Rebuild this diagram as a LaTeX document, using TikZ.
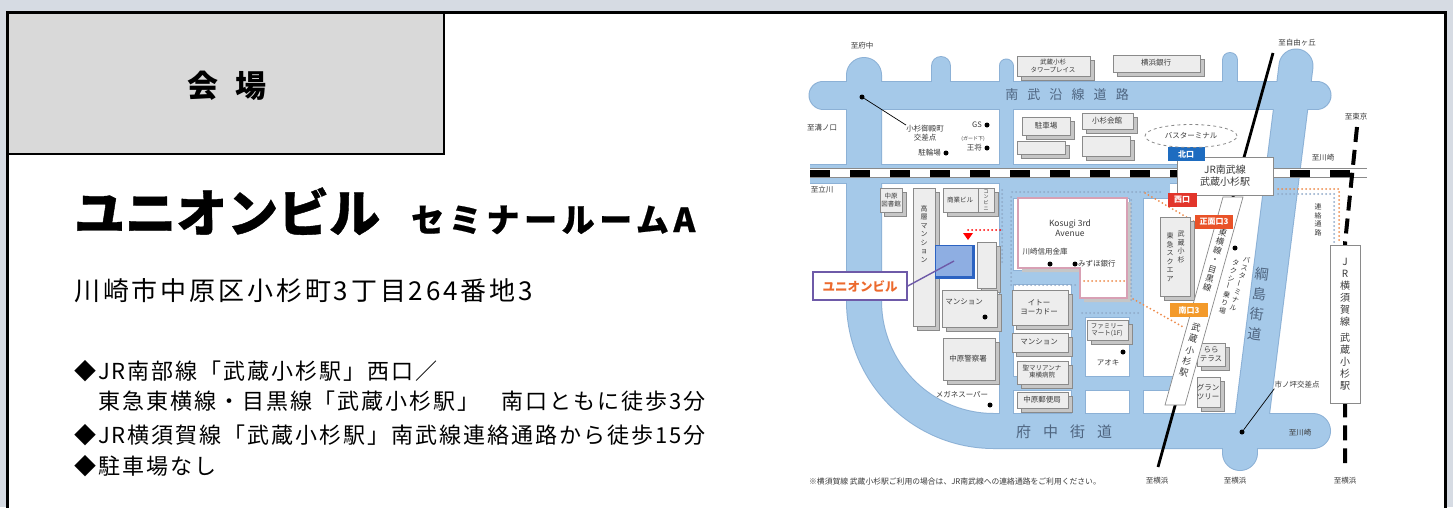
\documentclass[tikz,border=0pt]{standalone}
\usepackage{fontspec}
\usepackage{graphicx}
\setmainfont{Noto Sans CJK JP}
\usetikzlibrary{shapes.geometric}
\definecolor{bgout}{HTML}{D6DBE3}
\definecolor{hdrc}{HTML}{D9D9D9}
\definecolor{roadc}{HTML}{A5C9E9}
\definecolor{roadedge}{HTML}{8CB1D6}
\definecolor{bfacec}{HTML}{EDEDED}
\definecolor{bsidec}{HTML}{C6C6C6}
\definecolor{blinec}{HTML}{8A8A8A}
\definecolor{mtext}{HTML}{3A3A3A}
\definecolor{rtext}{HTML}{4F6580}
\definecolor{kitac}{HTML}{1E6CC0}
\definecolor{nishic}{HTML}{E2352B}
\definecolor{shomenc}{HTML}{E95228}
\definecolor{minamic}{HTML}{F39A2B}
\definecolor{walkc}{HTML}{8EA9C8}
\definecolor{routec}{HTML}{EE8A4A}
\definecolor{unionc}{HTML}{8EAEE2}
\definecolor{unionedge}{HTML}{2C63C2}
\definecolor{calloutc}{HTML}{6E5AA8}
\definecolor{callouttext}{HTML}{EC6A2E}
\definecolor{pinkedge}{HTML}{D8A0B4}
\tikzset{
  mt/.style={font=\fontsize{7.5}{8.5}\selectfont, text=mtext, inner sep=0, align=center},
  smt/.style={font=\fontsize{6.5}{7.2}\selectfont, text=mtext, inner sep=0, align=center},
  rt/.style={font=\fontsize{13}{13}\selectfont, text=rtext, inner sep=0},
  mapdot/.style={circle, fill=black, inner sep=0, minimum size=5},
  walkdots/.style={draw=walkc, line width=2, line cap=round, dash pattern=on 0pt off 4pt},
  routedots/.style={draw=routec, line width=2, line cap=round, dash pattern=on 0pt off 4pt},
  exitlab/.style={text=white, font=\fontsize{8}{8}\selectfont\bfseries, inner sep=1.5, minimum height=14},
  bul/.style={anchor=base west, inner sep=0, font=\fontsize{22}{22}\selectfont\addfontfeature{LetterSpace=9}},
}
\newcommand\bld[4]{%
  \filldraw[fill=bsidec, draw=blinec, line width=0.5] (#1+4,#2+4) rectangle (#3+4,#4+4);
  \filldraw[fill=bfacec, draw=blinec, line width=0.6] (#1,#2) rectangle (#3,#4);}
\newcommand\roads[2]{%
 \begin{scope}[draw=#1, line cap=round]
  \draw[line width=27+#2] (823,95) -- (1317,95);
  \draw[line width=34+#2, rounded corners=130] (864,75) -- (864,431) -- (1313,431);
  \draw[line width=18+#2] (941,66) -- (941,95);
  \draw[line width=13+#2] (1006,66) -- (1006,420);
  \draw[line width=14+#2] (1230,60) -- (1230,95);
  \draw[line width=33+#2] (1296,66) -- (1251,425);
  \draw[line width=34+#2] (1240,431) -- (1240,453);
  \draw[line width=18+#2, line cap=butt] (810,174) -- (1290,174);
  \draw[line width=20+#2, line cap=butt] (1006,188) -- (1170,188);
  \draw[line width=13+#2, line cap=butt] (1000,277) -- (1078,277);
  \draw[line width=13+#2, line cap=butt] (1078,270) -- (1078,420);
  \draw[line width=16+#2, line cap=butt] (1078,309) -- (1136,309);
  \draw[line width=13+#2, line cap=butt] (1136,188) -- (1136,420);
  \draw[line width=13+#2, line cap=butt] (1006,383) -- (1185,383);
 \end{scope}}
\begin{document}
\begin{tikzpicture}[x=1pt,y=-1pt]
\useasboundingbox (0,0) rectangle (1453,507);
\clip (0,0) rectangle (1453,507);
\fill[bgout] (0,0) rectangle (1453,507);
\filldraw[fill=white, draw=black, line width=2.6] (7.5,12.5) rectangle (1445.5,540);
\filldraw[fill=hdrc, draw=black, line width=2.6] (7.5,12.5) rectangle (444,154);

% ---------- left text ----------
\node[font=\fontsize{31}{31}\selectfont\bfseries] (hdr) at (227,86) {会\hspace{17pt}場};
\node[anchor=base west, inner sep=0] (title) at (74,232) {{\fontsize{51}{51}\selectfont\bfseries\addfontfeature{FakeBold=0.8}ユニオンビル}\hspace{31pt}{\fontsize{33}{33}\selectfont\bfseries\addfontfeature{LetterSpace=14,FakeBold=0.6}セミナールームA}};
\node[anchor=base west, inner sep=0, font=\fontsize{26}{26}\selectfont\addfontfeature{LetterSpace=11}] (addr) at (74,300) {川崎市中原区小杉町3丁目264番地3};
\node[bul] (b1) at (74,379) {◆JR南部線「武蔵小杉駅」西口／};
\node[bul] (b2) at (98,409) {東急東横線・目黒線「武蔵小杉駅」\hspace{22pt}南口ともに徒歩3分};
\node[bul] (b3) at (74,443) {◆JR横須賀線「武蔵小杉駅」南武線連絡通路から徒歩15分};
\node[bul] (b4) at (74,474) {◆駐車場なし};

% ---------- map: roads ----------
\roads{roadedge}{2}
\roads{roadc}{0}

% Kosugi 3rd Avenue block
\fill[bsidec] (1022,202) -- (1131,202) -- (1131,302) -- (1084,302) -- (1084,272) -- (1022,272) -- cycle;
\filldraw[fill=white, draw=pinkedge, line width=1.3] (1018,198) -- (1127,198) -- (1127,298) -- (1080,298) -- (1080,268) -- (1018,268) -- cycle;

% walkways
\draw[walkdots] (1012,192) -- (1160,192);
\draw[walkdots] (1011,197) -- (1011,285) -- (1076,285);
\draw[walkdots] (1131,200) -- (1131,300);
\draw[walkdots] (1082,313) -- (1138,313);
\draw[walkdots] (1002,190) -- (1002,265);
\draw[walkdots] (1278,194) -- (1334,194) -- (1334,243);
\draw[routedots] (1278,189) -- (1339,189) -- (1339,243);
\draw[routedots] (1145,193) -- (1195,222);
\draw[routedots] (1133,299) -- (1185,328);
\draw[routedots] (1084,281) -- (1126,281);
\draw[draw=red, line width=2, line cap=round, dash pattern=on 0pt off 4pt] (968,230) -- (1000,230);

% buildings
\bld{1017}{56}{1090}{76}
\bld{1113}{55}{1200}{72}
\bld{1022}{117}{1070}{135}
\bld{1017}{141}{1065}{154}
\bld{1082}{113}{1133}{129}
\bld{1082}{136}{1130}{156}
\bld{880}{188}{902}{212}
\bld{913}{188}{935}{326}
\bld{943}{188}{994}{212}
\draw[blinec, line width=0.5] (978,188) -- (978,212);
\bld{977}{242}{996}{288}
\bld{942}{290}{997}{327}
\bld{943}{338}{995}{380}
\bld{1012}{290}{1068}{325}
\bld{1012}{333}{1068}{352}
\bld{1017}{361}{1068}{384}
\bld{1017}{392}{1068}{408}
\bld{1087}{320}{1128}{340}
\bld{1160}{217}{1190}{296}
\bld{1197}{343}{1225}{366}
\bld{1197}{377}{1220}{407}

% union building
\node[draw=unionedge, fill=unionc, line width=1, minimum width=38, minimum height=32, inner sep=0] (ub) at (954,261) {};
\draw[unionedge, line width=3] (ub.south west) -- (ub.south east) -- (ub.north east);
\fill[red] (963,233) -- (973,233) -- (968,240) -- cycle;

% railways
\coordinate (rl) at (810,173);
\coordinate (rr) at (1367,173);
\draw[line width=9, white] (rl) -- (rr);
\draw[line width=7, black, dash pattern=on 20 off 20] (rl) -- (rr);
\draw[blinec, line width=0.6] (810,168.5) -- (1367,168.5);
\draw[blinec, line width=0.6] (810,177.5) -- (1367,177.5);

\coordinate (ytop) at (1357,127);
\coordinate (ymid) at (1345,243);
\coordinate (ybot) at (1345,463);
\draw[line width=4, dash pattern=on 15 off 8] (ytop) -- (ymid) -- (ybot);
\node[draw=blinec, fill=white, minimum width=30, minimum height=158, inner sep=0, align=center, font=\fontsize{10}{12}\selectfont, text=mtext] (jry) at (1345,324) {J\\R\\横\\須\\賀\\線\\[4pt]武\\蔵\\小\\杉\\駅};

\coordinate (ttop) at (1273,53);
\coordinate (tbot) at (1158,467);
\draw[line width=2.8] (ttop) -- (tbot);
\filldraw[fill=white, draw=blinec, line width=0.7] (1223,197) -- (1243,197) -- (1185,405) -- (1165,405) -- cycle;
\node[mt, rotate=-15.5, font=\fontsize{8.5}{9.6}\selectfont] (tyl) at (1215,260) {東\\横\\線\\・\\目\\黒\\線};
\node[mt, rotate=-15.5, font=\fontsize{9}{11.5}\selectfont] (tys) at (1190,350) {武\\蔵\\小\\杉\\駅};

\node[draw=blinec, fill=white, minimum width=96, minimum height=38, align=center, font=\fontsize{10}{12}\selectfont, text=mtext, inner sep=0] (jrn) at (1225,176) {JR南武線\\武蔵小杉駅};

% exits
\node[exitlab, fill=kitac, minimum width=37] (kita) at (1186,154) {北口};
\node[exitlab, fill=nishic, minimum width=29] (nishi) at (1182,200) {西口};
\node[exitlab, fill=shomenc, minimum width=38] (shomen) at (1214,222) {正面口3};
\node[exitlab, fill=minamic, minimum width=38] (minami) at (1189,310) {南口3};

% bus terminal
\node[ellipse, draw=blinec, dashed, line width=0.8, minimum width=92, minimum height=23, inner sep=0, mt] (bus) at (1191,136) {バスターミナル};

% road names
\node[rt, font=\fontsize{13}{13}\selectfont\addfontfeature{LetterSpace=70}] (nambu) at (1067,95) {南武沿線道路};
\node[rt, font=\fontsize{15}{15}\selectfont\addfontfeature{LetterSpace=80}] (fuchu) at (1064,432) {府中街道};
\node[rt, align=center, rotate=-7, font=\fontsize{14}{20}\selectfont] (tsuna) at (1258,304) {綱\\島\\街\\道};

% direction labels
\node[mt] (d1) at (862,46) {至府中};
\node[mt] (d2) at (822,128) {至溝ノ口};
\node[mt] (d3) at (822,190) {至立川};
\node[mt] (d4) at (1297,43) {至自由ヶ丘};
\node[mt] (d5) at (1356,117) {至東京};
\node[mt] (d6) at (1323,158) {至川崎};
\node[mt] (d7) at (1300,433) {至川崎};
\node[mt] (d8) at (1157,481) {至横浜};
\node[mt] (d9) at (1235,481) {至横浜};
\node[mt] (d10) at (1345,481) {至横浜};

% top-left block labels
\node[mapdot] (gotenpt) at (862,97) {};
\node[mt] (goten) at (925,133) {小杉御殿町\\交差点};
\draw[line width=0.7] (gotenpt) -- (goten.north west);
\node[mt, anchor=east] (gs) at (982,125) {GS};
\node[mapdot] (gsd) at (987,125) {};
\node[smt, font=\fontsize{5}{5}\selectfont] (gard) at (973,139) {(ガード下)};
\node[mt, anchor=east] (ohsho) at (982,148) {王将};
\node[mapdot] (ohshod) at (987,148) {};
\node[mt, anchor=east] (churin) at (941,153) {駐輪場};
\node[mapdot] (churind) at (946,153) {};

% building labels
\node[smt] (tower) at (1053,66) {武蔵小杉\\タワープレイス};
\node[mt] (yokogin) at (1156,63) {横浜銀行};
\node[mt] (park) at (1046,126) {駐車場};
\node[mt] (kaikan) at (1107,121) {小杉会館};
\node[smt] (lib) at (891,200) {中原\\図書館};
\node[smt, font=\fontsize{7}{8.5}\selectfont] (koso) at (924,234) {高\\層\\マ\\ン\\シ\\ョ\\ン};
\node[smt] (shogyo) at (960,200) {商業ビル};
\node[smt, font=\fontsize{5}{5.6}\selectfont] (conv) at (986,200) {コ\\ン\\ビ\\ニ};
\node[mt] (mansion1) at (964,302) {マンション};
\node[mapdot] (mansion1d) at (985,317) {};
\node[mt] (police) at (968,359) {中原警察署};
\node[mt] (megane) at (962,395) {メガネスーパー};
\node[mapdot] (meganed) at (990,405) {};
\node[font=\fontsize{8.5}{10}\selectfont, text=mtext, align=center, inner sep=0] (kosugi3) at (1070,228) {Kosugi 3rd\\Avenue};
\node[mt] (shinkin) at (1045,252) {川崎信用金庫};
\node[mapdot] (shinkind) at (1050,264) {};
\node[mapdot] (mizuhod) at (1075,264) {};
\node[mt, anchor=west] (mizuho) at (1078,264) {みずほ銀行};
\node[mt] (ito) at (1039,307) {イトー\\ヨーカドー};
\node[mt] (mansion2) at (1039,342) {マンション};
\node[smt] (marianna) at (1042,372) {聖マリアンナ\\東横病院};
\node[mt] (post) at (1042,400) {中原郵便局};
\node[smt] (famima) at (1107,330) {ファミリー\\マート(1F)};
\node[mapdot] (aokid) at (1123,352) {};
\node[mt] (aoki) at (1108,363) {アオキ};
\node[smt, font=\fontsize{7}{8.5}\selectfont] (sq1) at (1181,247) {武\\蔵\\小\\杉};
\node[smt, font=\fontsize{7}{8.5}\selectfont] (sq2) at (1170,257) {東\\急\\ス\\ク\\エ\\ア};
\node[mt] (lala) at (1211,354) {らら\\テラス};
\node[mt] (grand) at (1208,392) {グラン\\ツリー};
\node[mapdot] (busd) at (1235,248) {};
\node[smt, rotate=-15.5, font=\fontsize{7}{8.3}\selectfont] (bus1) at (1240,284) {バ\\ス\\タ\\\rotatebox{90}{ー}\\ミ\\ナ\\ル};
\node[smt, rotate=-15.5, font=\fontsize{7}{8.3}\selectfont] (bus2) at (1229,287) {タ\\ク\\シ\\\rotatebox{90}{ー}\\乗\\り\\場};
\node[smt, font=\fontsize{7}{8.5}\selectfont] (renraku) at (1318,220) {連\\絡\\通\\路};
\node[mapdot] (ichid) at (1242,432) {};
\node[mt] (ichi) at (1297,385) {市ノ坪交差点};
\draw[line width=0.7] (ichid) -- (ichi.south west);

% union callout
\node[draw=calloutc, fill=white, line width=1.5, minimum width=94, minimum height=28, inner sep=0, text=callouttext, font=\fontsize{12.5}{12.5}\selectfont\bfseries] (uc) at (860,286) {ユニオンビル};
\draw[calloutc, line width=1.4] (uc.east) -- (ub.center);

% footnote
\node[font=\fontsize{7.8}{8}\selectfont, text=mtext, inner sep=0] (fn) at (955,482) {※横須賀線 武蔵小杉駅ご利用の場合は、JR南武線への連絡通路をご利用ください。};
\end{tikzpicture}
\end{document}
